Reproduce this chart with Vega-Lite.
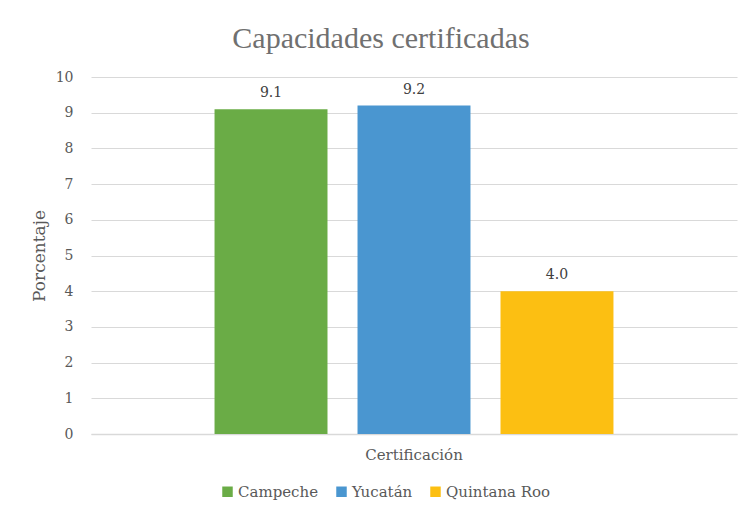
{
  "$schema": "https://vega.github.io/schema/vega-lite/v6.json",
  "width": 646,
  "height": 357,
  "autosize": {"type": "none"},
  "padding": {"left": 91, "top": 77, "right": 13, "bottom": 79},
  "background": "white",
  "title": {
    "text": "Capacidades certificadas",
    "font": "Liberation Serif",
    "fontSize": 30,
    "fontWeight": "normal",
    "color": "#707070",
    "anchor": "middle",
    "dx": -33,
    "offset": 16
  },
  "data": {
    "values": [
      {"Categoria": "Certificación", "Estado": "Campeche", "Porcentaje": 9.1},
      {"Categoria": "Certificación", "Estado": "Yucatán", "Porcentaje": 9.2},
      {"Categoria": "Certificación", "Estado": "Quintana Roo", "Porcentaje": 4.0}
    ]
  },
  "config": {
    "view": {"stroke": null},
    "font": "DejaVu Serif",
    "axis": {
      "labelFont": "DejaVu Serif",
      "titleFont": "DejaVu Serif",
      "labelColor": "#595959",
      "titleColor": "#595959",
      "ticks": false
    },
    "axisY": {
      "values": [0, 1, 2, 3, 4, 5, 6, 7, 8, 9, 10],
      "tickCount": 11,
      "labelOverlap": false,
      "labelFontSize": 14,
      "labelPadding": 18,
      "domain": false,
      "gridColor": "#d9d9d9",
      "titleFontSize": 17,
      "titleFontWeight": "normal",
      "titlePadding": 7
    },
    "axisX": {
      "labelFontSize": 15,
      "labelPadding": 13,
      "labelAngle": 0,
      "domainColor": "#d9d9d9",
      "domainWidth": 1.5
    },
    "legend": {"labelFont": "DejaVu Serif"},
    "text": {"font": "DejaVu Serif"}
  },
  "layer": [
    {
      "mark": {"type": "bar"},
      "encoding": {
        "x": {
          "field": "Categoria",
          "type": "nominal",
          "scale": {"paddingInner": 0, "paddingOuter": 0.253},
          "axis": {"title": null}
        },
        "xOffset": {
          "field": "Estado",
          "type": "nominal",
          "sort": ["Campeche", "Yucatán", "Quintana Roo"],
          "scale": {"paddingInner": 0.21, "paddingOuter": 0.105}
        },
        "y": {
          "field": "Porcentaje",
          "type": "quantitative",
          "scale": {"domain": [0, 10], "nice": false},
          "axis": {
            "title": "Porcentaje",
            "values": [0, 1, 2, 3, 4, 5, 6, 7, 8, 9, 10],
            "tickCount": 11
          }
        },
        "color": {
          "field": "Estado",
          "type": "nominal",
          "sort": ["Campeche", "Yucatán", "Quintana Roo"],
          "scale": {
            "domain": ["Campeche", "Yucatán", "Quintana Roo"],
            "range": ["#6aac46", "#4a96d0", "#fcbf12"]
          },
          "legend": {
            "title": null,
            "orient": "none",
            "direction": "horizontal",
            "legendX": 129,
            "legendY": 407,
            "symbolType": "square",
            "symbolSize": 110,
            "symbolStrokeWidth": 0,
            "labelFont": "DejaVu Serif",
            "labelFontSize": 15,
            "labelColor": "#595959",
            "labelOffset": 3,
            "columnPadding": 15
          }
        }
      }
    },
    {
      "mark": {
        "type": "text",
        "baseline": "bottom",
        "dy": -9,
        "font": "DejaVu Serif",
        "fontSize": 14,
        "color": "#404040"
      },
      "encoding": {
        "x": {"field": "Categoria", "type": "nominal"},
        "xOffset": {"field": "Estado", "type": "nominal", "sort": ["Campeche", "Yucatán", "Quintana Roo"]},
        "y": {"field": "Porcentaje", "type": "quantitative"},
        "text": {"field": "Porcentaje", "type": "quantitative", "format": ".1f"}
      }
    }
  ]
}
